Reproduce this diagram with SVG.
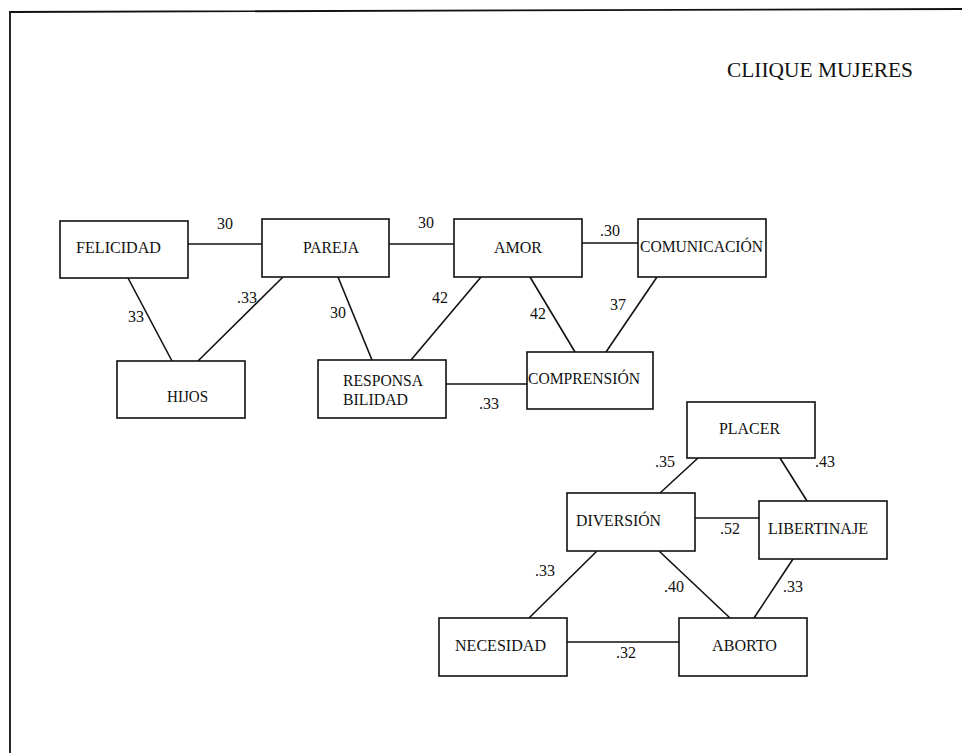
<svg xmlns="http://www.w3.org/2000/svg" width="962" height="753" viewBox="0 0 962 753" font-family="'Liberation Serif', 'DejaVu Serif', serif">
<style>
.box{fill:#fff;stroke:#111;stroke-width:1.6}
text{font-family:'Liberation Serif','DejaVu Serif',serif;font-size:16px;fill:#111}
.e{stroke:#111;stroke-width:1.6;fill:none}
</style>
<rect width="962" height="753" fill="#fff"/>
<path d="M10,760 L10,12 L962,9" fill="none" stroke="#111" stroke-width="1.8"/>
<text x="727" y="77" font-size="21" style="font-size:21px" textLength="186" lengthAdjust="spacingAndGlyphs">CLIIQUE MUJERES</text>

<g id="connectors">
<line class="e" x1="188" y1="244" x2="262" y2="244"/>
<line class="e" x1="389" y1="244" x2="454" y2="244"/>
<line class="e" x1="582" y1="243" x2="638" y2="243"/>
<line class="e" x1="128" y1="278" x2="172" y2="361"/>
<line class="e" x1="283" y1="277" x2="198" y2="361"/>
<line class="e" x1="338" y1="277" x2="372" y2="360"/>
<line class="e" x1="481" y1="277" x2="411" y2="360"/>
<line class="e" x1="530" y1="277" x2="575" y2="352"/>
<line class="e" x1="657" y1="277" x2="606" y2="352"/>
<line class="e" x1="446" y1="384" x2="527" y2="384"/>
<line class="e" x1="698" y1="458" x2="660" y2="493"/>
<line class="e" x1="780" y1="458" x2="807" y2="501"/>
<line class="e" x1="695" y1="518" x2="759" y2="518"/>
<line class="e" x1="597" y1="551" x2="529" y2="618"/>
<line class="e" x1="659" y1="551" x2="730" y2="618"/>
<line class="e" x1="793" y1="559" x2="754" y2="618"/>
<line class="e" x1="567" y1="642" x2="679" y2="642"/>
<text x="217" y="229">30</text>
<text x="418" y="228">30</text>
<text x="600" y="236">.30</text>
<text x="128" y="322">33</text>
<text x="237" y="303">.33</text>
<text x="330" y="318">30</text>
<text x="432" y="303">42</text>
<text x="530" y="319">42</text>
<text x="610" y="310">37</text>
<text x="479" y="409">.33</text>
<text x="655" y="467">.35</text>
<text x="815" y="467">.43</text>
<text x="720" y="534">.52</text>
<text x="535" y="576">.33</text>
<text x="664" y="592">.40</text>
<text x="783" y="592">.33</text>
<text x="616" y="658">.32</text>
</g>

<g id="felicidad"><rect class="box" x="60" y="221" width="128" height="57"/><text x="76" y="253" textLength="85" lengthAdjust="spacingAndGlyphs">FELICIDAD</text></g>
<g id="pareja"><rect class="box" x="262" y="219" width="127" height="58"/><text x="303" y="253" textLength="56" lengthAdjust="spacingAndGlyphs">PAREJA</text></g>
<g id="amor"><rect class="box" x="454" y="219" width="128" height="58"/><text x="494" y="253" textLength="48" lengthAdjust="spacingAndGlyphs">AMOR</text></g>
<g id="comunicacion"><rect class="box" x="638" y="219" width="128" height="58"/><text x="640" y="252" textLength="123" lengthAdjust="spacingAndGlyphs">COMUNICACIÓN</text></g>
<g id="hijos"><rect class="box" x="117" y="361" width="128" height="57"/><text x="167" y="402" textLength="41" lengthAdjust="spacingAndGlyphs">HIJOS</text></g>
<g id="responsabilidad"><rect class="box" x="318" y="360" width="128" height="58"/><text x="343" y="386" textLength="80" lengthAdjust="spacingAndGlyphs">RESPONSA</text><text x="343" y="405" textLength="65" lengthAdjust="spacingAndGlyphs">BILIDAD</text></g>
<g id="comprension"><rect class="box" x="527" y="352" width="126" height="57"/><text x="528" y="384" textLength="112" lengthAdjust="spacingAndGlyphs">COMPRENSIÓN</text></g>
<g id="placer"><rect class="box" x="687" y="402" width="128" height="56"/><text x="719" y="434" textLength="61" lengthAdjust="spacingAndGlyphs">PLACER</text></g>
<g id="diversion"><rect class="box" x="567" y="493" width="128" height="58"/><text x="576" y="526" textLength="85" lengthAdjust="spacingAndGlyphs">DIVERSIÓN</text></g>
<g id="libertinaje"><rect class="box" x="759" y="501" width="128" height="58"/><text x="768" y="534" textLength="100" lengthAdjust="spacingAndGlyphs">LIBERTINAJE</text></g>
<g id="necesidad"><rect class="box" x="439" y="618" width="128" height="58"/><text x="455" y="651" textLength="91" lengthAdjust="spacingAndGlyphs">NECESIDAD</text></g>
<g id="aborto"><rect class="box" x="679" y="618" width="128" height="58"/><text x="712" y="651" textLength="65" lengthAdjust="spacingAndGlyphs">ABORTO</text></g>
</svg>
